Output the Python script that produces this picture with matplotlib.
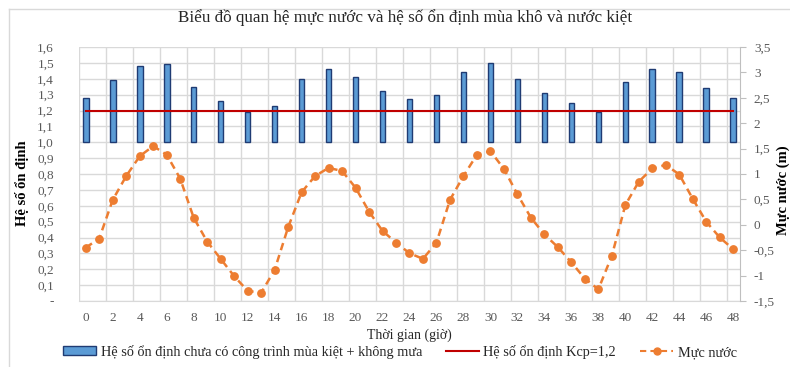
import numpy as np
import matplotlib
matplotlib.use("Agg")
import matplotlib.pyplot as plt
from matplotlib.lines import Line2D
from matplotlib.patches import Patch
from matplotlib.ticker import FuncFormatter, FixedLocator

plt.rcParams['font.family'] = ['Liberation Serif', 'DejaVu Serif']

# số liệu
hours_k = list(range(0, 49, 2))
k_values = [1.28, 1.39, 1.48, 1.49, 1.35, 1.26, 1.19, 1.23, 1.40, 1.46, 1.41, 1.32,
            1.27, 1.30, 1.44, 1.50, 1.40, 1.31, 1.25, 1.19, 1.38, 1.46, 1.44, 1.34, 1.28]
k_cp = 1.2

hours_h = list(range(0, 49))
water_level = [-0.45, -0.27, 0.49, 0.96, 1.35, 1.55, 1.38, 0.91, 0.14, -0.33,
               -0.67, -1.01, -1.30, -1.34, -0.89, -0.05, 0.64, 0.96, 1.12, 1.06,
               0.73, 0.26, -0.12, -0.35, -0.56, -0.67, -0.35, 0.49, 0.96, 1.38,
               1.45, 1.10, 0.60, 0.14, -0.19, -0.44, -0.74, -1.06, -1.27, -0.61,
               0.39, 0.85, 1.11, 1.18, 0.99, 0.51, 0.06, -0.25, -0.48]

title = "Biểu đồ quan hệ mực nước và hệ số ổn định mùa khô và nước kiệt"
lbl_bar = "Hệ số ổn định chưa có công trình mùa kiệt + không mưa"
lbl_kcp = "Hệ số ổn định Kcp=1,2"
lbl_wl = "Mực nước"

bar_face = '#5B9BD5'
bar_edge = '#1F3B73'
red = '#C00000'
orange = '#ED7D31'
grid_c = '#D9D9D9'
tick_c = '#595959'

fig = plt.figure(figsize=(7.9, 3.67), dpi=100)
ax = fig.add_axes([79 / 790, 1 - 301 / 367, (740 - 79) / 790, (301 - 47) / 367])
ax2 = ax.twinx()

# cột hệ số ổn định (gốc tại 1,0)
ax.bar(hours_k, [v - 1.0 for v in k_values], bottom=1.0, width=0.42,
       color=bar_face, edgecolor=bar_edge, linewidth=1.0, zorder=3)
ax.plot([hours_k[0], hours_k[-1]], [k_cp, k_cp], color=red, lw=1.5, zorder=4)

ax2.plot(hours_h, water_level, color=orange, lw=1.8, ls=(0, (3, 2)),
         marker='o', ms=5.3, zorder=5)

ax.set_xlim(-0.5, 48.5)
ax.set_ylim(0, 1.6)
ax2.set_ylim(-1.5, 3.5)

ax.set_xticks(hours_k)
ax.xaxis.set_minor_locator(FixedLocator(np.arange(-0.5, 49, 2)))
ax.set_yticks(np.round(np.arange(0, 1.61, 0.1), 1))
ax2.set_yticks(np.arange(-1.5, 3.51, 0.5))


def fmt_left(v, pos):
    if abs(v) < 1e-9:
        return "-"
    return f"{v:.1f}".replace(".", ",")


def fmt_right(v, pos):
    s = f"{v:g}".replace(".", ",")
    return "0" if s in ("-0", "0") else s


ax.yaxis.set_major_formatter(FuncFormatter(fmt_left))
ax2.yaxis.set_major_formatter(FuncFormatter(fmt_right))

ax.grid(axis='y', which='major', color=grid_c, lw=1.0, zorder=0)
ax.grid(axis='x', which='minor', color=grid_c, lw=1.0, zorder=0)
ax.set_axisbelow(True)

ax.tick_params(axis='x', which='both', length=0, labelsize=9.5, colors=tick_c, pad=8)
ax.tick_params(axis='y', length=0, labelsize=9.5, colors=tick_c, pad=18)
ax2.tick_params(axis='y', length=4, width=0.8, labelsize=9.5,
                colors=tick_c, pad=6)
ax2.tick_params(axis='y', color='#BFBFBF')

for a in (ax, ax2):
    for s in a.spines.values():
        s.set_visible(False)
ax.spines['bottom'].set_visible(True)
ax.spines['bottom'].set_color(grid_c)
ax2.spines['right'].set_visible(True)
ax2.spines['right'].set_color('#BFBFBF')

ax.set_xlabel("Thời gian (giờ)", fontsize=10, color='#262626', labelpad=3)

fig.text(405 / 790, 1 - 18 / 367, title, ha='center', va='center', fontsize=12.3,
         color='#262626')
fig.text(22 / 790, 1 - 183 / 367, "Hệ số ổn định", rotation=90, ha='center',
         va='center', fontsize=10.5, fontweight='bold', color='black')
fig.text(783 / 790, 1 - 190 / 367, "Mực nước (m)", rotation=90, ha='center',
         va='center', fontsize=10.5, fontweight='bold', color='black')

# khung biểu đồ
fig.add_artist(Line2D([9 / 790, 1], [1 - 9 / 367, 1 - 9 / 367], color='#D9D9D9', lw=1,
                      transform=fig.transFigure))
fig.add_artist(Line2D([9 / 790, 9 / 790], [0, 1 - 9 / 367], color='#D9D9D9', lw=1,
                      transform=fig.transFigure))

handles = [
    Patch(facecolor=bar_face, edgecolor=bar_edge, linewidth=1.0),
    Line2D([], [], color=red, lw=1.5),
    Line2D([], [], color=orange, lw=1.5, ls=(0, (3, 2)), marker='o', ms=5),
]
fig.legend(handles, [lbl_bar, lbl_kcp, lbl_wl], loc='center', ncol=3,
           bbox_to_anchor=(400 / 790, 1 - 352 / 367), frameon=False, fontsize=10.3,
           handlelength=2.3, handleheight=0.6, handletextpad=0.3, columnspacing=1.7,
           labelcolor='#262626')

fig.savefig("out.png", dpi=100)
